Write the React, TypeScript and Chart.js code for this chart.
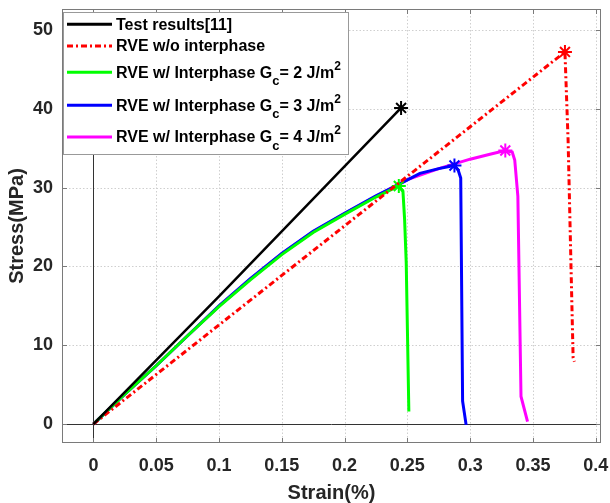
import React, { useEffect, useRef } from 'react';
import { Chart, registerables } from 'chart.js';

Chart.register(...registerables);

// ---- axis ticks ----
const xTicks = [0, 0.05, 0.1, 0.15, 0.2, 0.25, 0.3, 0.35, 0.4];
const xTickLabels = ['0', '0.05', '0.1', '0.15', '0.2', '0.25', '0.3', '0.35', '0.4'];
const yTicks = [0, 10, 20, 30, 40, 50];
const yTickLabels = ['0', '10', '20', '30', '40', '50'];

// ---- series ----
const seriesNames = [
  'Test results[11]',
  'RVE w/o interphase',
  'RVE w/ Interphase G_{c}= 2 J/m^{2}',
  'RVE w/ Interphase G_{c}= 3 J/m^{2}',
  'RVE w/ Interphase G_{c}= 4 J/m^{2}',
];
const seriesColors = ['#000000', '#ff0000', '#00ff00', '#0000ff', '#ff00ff'];

const testStrain = [0, 0.1, 0.245];
const testStress = [0, 16.2, 40.1];

const noInterStrain = [0, 0.3755, 0.378, 0.382, 0.383];
const noInterStress = [0, 47.2, 36, 8.4, 7.9];

const gc2Strain = [0, 0.025, 0.05, 0.075, 0.1, 0.125, 0.15, 0.175, 0.2, 0.225, 0.2432, 0.2465, 0.2478, 0.2491, 0.2512];
const gc2Stress = [0, 3.8, 7.4, 11.2, 14.9, 18.3, 21.5, 24.3, 26.6, 28.8, 30.2, 29.5, 26, 20.5, 1.6];

const gc3Strain = [0, 0.025, 0.05, 0.075, 0.1, 0.125, 0.15, 0.175, 0.2, 0.225, 0.2432, 0.26, 0.275, 0.2875, 0.2905, 0.2925, 0.294, 0.2968];
const gc3Stress = [0, 3.8, 7.4, 11.2, 15.0, 18.45, 21.65, 24.45, 26.75, 28.95, 30.4, 31.8, 32.4, 32.8, 32.2, 31.2, 2.9, -0.1];

const gc4Strain = [0, 0.025, 0.05, 0.075, 0.1, 0.125, 0.15, 0.175, 0.2, 0.225, 0.25, 0.275, 0.3, 0.315, 0.328, 0.3335, 0.3355, 0.338, 0.3405, 0.3457];
const gc4Stress = [0, 3.8, 7.4, 11.2, 14.95, 18.4, 21.6, 24.4, 26.7, 28.9, 31.0, 32.4, 33.6, 34.2, 34.7, 34.5, 33.5, 28.9, 3.5, 0.3];

const seriesStrain = [testStrain, noInterStrain, gc2Strain, gc3Strain, gc4Strain];
const seriesStress = [testStress, noInterStress, gc2Stress, gc3Stress, gc4Stress];

const FONT = "'Liberation Sans', Arial, Helvetica, sans-serif";
const TEXT = '#262626';

function drawRich(ctx: CanvasRenderingContext2D, text: string, x: number, y: number) {
  const parts = text.split(/(_\{[^}]*\}|\^\{[^}]*\})/).filter((p) => p.length > 0);
  let cx = x;
  for (const p of parts) {
    let t = p;
    let dy = 0;
    let size = 16;
    if (p.startsWith('_{')) {
      t = p.slice(2, -1);
      dy = 8;
      size = 13;
    } else if (p.startsWith('^{')) {
      t = p.slice(2, -1);
      dy = -7;
      size = 12;
    }
    ctx.font = `bold ${size}px ${FONT}`;
    ctx.fillText(t, cx, y + dy);
    cx += ctx.measureText(t).width;
  }
}

const framePlugin = {
  id: 'frame',
  beforeDatasetsDraw(chart: any) {
    const { ctx, chartArea, scales } = chart;
    const { left, right, top, bottom } = chartArea;
    const xs = scales.x;
    const ys = scales.y;
    ctx.save();
    ctx.lineWidth = 1;
    ctx.strokeStyle = '#cfcfcf';
    ctx.setLineDash([1.5, 2]);
    for (const v of xTicks) {
      if (v === 0) continue;
      const px = Math.round(xs.getPixelForValue(v)) + 0.5;
      ctx.beginPath();
      ctx.moveTo(px, top);
      ctx.lineTo(px, bottom);
      ctx.stroke();
    }
    for (const v of yTicks) {
      if (v === 0) continue;
      const py = Math.round(ys.getPixelForValue(v)) + 0.5;
      ctx.beginPath();
      ctx.moveTo(left, py);
      ctx.lineTo(right, py);
      ctx.stroke();
    }
    ctx.setLineDash([]);
    ctx.strokeStyle = '#333333';
    const x0 = Math.round(xs.getPixelForValue(0)) + 0.5;
    const y0 = Math.round(ys.getPixelForValue(0)) + 0.5;
    ctx.beginPath();
    ctx.moveTo(x0, top);
    ctx.lineTo(x0, bottom);
    ctx.moveTo(left, y0);
    ctx.lineTo(right, y0);
    ctx.stroke();
    ctx.restore();
  },
  afterDatasetsDraw(chart: any) {
    const { ctx, chartArea, scales } = chart;
    const { left, right, top, bottom } = chartArea;
    const xs = scales.x;
    const ys = scales.y;
    ctx.save();
    ctx.lineWidth = 1;
    ctx.strokeStyle = '#7a7a7a';
    ctx.strokeRect(Math.round(left) + 0.5, Math.round(top) + 0.5, Math.round(right - left) - 1, Math.round(bottom - top) - 1);
    const tl = 5;
    ctx.beginPath();
    for (const v of xTicks) {
      const px = Math.round(xs.getPixelForValue(v)) + 0.5;
      ctx.moveTo(px, bottom);
      ctx.lineTo(px, bottom - tl);
      ctx.moveTo(px, top);
      ctx.lineTo(px, top + tl);
    }
    for (const v of yTicks) {
      const py = Math.round(ys.getPixelForValue(v)) + 0.5;
      ctx.moveTo(left, py);
      ctx.lineTo(left + tl, py);
      ctx.moveTo(right, py);
      ctx.lineTo(right - tl, py);
    }
    ctx.stroke();

    // legend
    const lx = Math.round(left) + 1;
    const ly = Math.round(top) + 3;
    const lw = 286;
    const lh = 143;
    ctx.fillStyle = '#ffffff';
    ctx.fillRect(lx, ly, lw, lh);
    ctx.strokeStyle = '#999999';
    ctx.strokeRect(lx + 0.5, ly + 0.5, lw - 1, lh - 1);
    const rowY = [12.3, 34, 60.3, 93.3, 125];
    ctx.textBaseline = 'middle';
    ctx.textAlign = 'left';
    seriesNames.forEach((name, i) => {
      const y = ly + rowY[i];
      ctx.strokeStyle = seriesColors[i];
      ctx.lineWidth = 3;
      ctx.setLineDash(i === 1 ? [6, 3, 2, 3] : []);
      ctx.beginPath();
      ctx.moveTo(lx + 4, y);
      ctx.lineTo(lx + 49, y);
      ctx.stroke();
      ctx.setLineDash([]);
      ctx.fillStyle = '#000000';
      drawRich(ctx, name, lx + 53, y + 1);
    });
    ctx.restore();
  },
};

export default function App() {
  const ref = useRef<HTMLCanvasElement | null>(null);
  useEffect(() => {
    if (!ref.current) return;
    const datasets = seriesNames.map((name, i) => {
      const pts = seriesStrain[i].map((x, j) => ({ x, y: seriesStress[i][j] }));
      const maxY = Math.max(...seriesStress[i]);
      return {
        label: name,
        data: pts,
        showLine: true,
        borderColor: seriesColors[i],
        backgroundColor: seriesColors[i],
        borderWidth: i === 0 ? 2.5 : 3,
        borderDash: i === 1 ? [6, 3, 2, 3] : [],
        pointStyle: 'star',
        pointRadius: (c: any) => (c.raw && c.raw.y === maxY ? 7 : 0),
        pointBorderWidth: 2,
        pointBorderColor: seriesColors[i],
        pointHoverRadius: 0,
        tension: 0,
        order: i + 1,
        clip: false,
      };
    });
    const tickFont = { family: FONT, size: 18, weight: 'bold' as const };
    const titleFont = { family: FONT, size: 20, weight: 'bold' as const, lineHeight: 1 };
    const chart = new Chart(ref.current, {
      type: 'scatter',
      data: { datasets: datasets as any },
      options: {
        animation: false,
        responsive: false,
        devicePixelRatio: 1,
        layout: { padding: { top: 9, right: 7, left: 0, bottom: 0 } },
        plugins: { legend: { display: false }, tooltip: { enabled: false } },
        scales: {
          x: {
            type: 'linear',
            min: -0.025,
            max: 0.4042,
            grid: { display: false, drawTicks: false },
            border: { display: false },
            afterBuildTicks: (s: any) => {
              s.ticks = xTicks.map((v) => ({ value: v }));
            },
            afterFit: (s: any) => {
              s.height = 60;
              s.paddingLeft = 0;
              s.paddingRight = 0;
            },
            ticks: {
              autoSkip: false,
              maxRotation: 0,
              padding: 12,
              color: TEXT,
              font: tickFont,
              callback: (v: any) => xTickLabels[xTicks.indexOf(Number(v))] ?? '',
            },
            title: { display: true, text: 'Strain(%)', color: TEXT, font: titleFont, padding: 0 },
          },
          y: {
            type: 'linear',
            min: -2.4,
            max: 52.65,
            grid: { display: false, drawTicks: false },
            border: { display: false },
            afterBuildTicks: (s: any) => {
              s.ticks = yTicks.map((v) => ({ value: v }));
            },
            afterFit: (s: any) => {
              s.width = 62;
              s.paddingTop = 0;
              s.paddingBottom = 0;
            },
            ticks: {
              autoSkip: false,
              padding: 9,
              color: TEXT,
              font: tickFont,
              callback: (v: any) => yTickLabels[yTicks.indexOf(Number(v))] ?? '',
            },
            title: { display: true, text: 'Stress(MPa)', color: TEXT, font: titleFont, padding: { top: 7, bottom: 0 } },
          },
        },
      } as any,
      plugins: [framePlugin],
    });
    return () => chart.destroy();
  }, []);
  return (
    <div style={{ position: 'absolute', left: 0, top: 0, width: 610, height: 503, background: '#fff' }}>
      <canvas ref={ref} width={610} height={503} />
    </div>
  );
}
